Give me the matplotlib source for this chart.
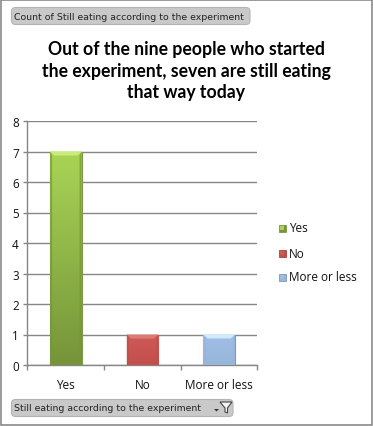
import numpy as np
import matplotlib
matplotlib.use("Agg")
import matplotlib.pyplot as plt
from matplotlib.patches import FancyBboxPatch, Polygon, Rectangle
from matplotlib.colors import LinearSegmentedColormap
from matplotlib.transforms import IdentityTransform

categories = ["Yes", "No", "More or less"]
values = [7, 1, 1]
colors_top = ["#A8D455", "#CF5A57", "#A0BEE4"]
colors_bot = ["#76953A", "#C24F4C", "#98B6DC"]
edge_colors = ["#7C9A42", "#A04644", "#7F95B4"]
bevel_colors = ["#C9EC78", "#DC7A78", "#CFEAFB"]
title = "Out of the nine people who started\nthe experiment, seven are still eating\nthat way today"
top_button = "Count of Still eating according to the experiment"
bottom_button = "Still eating according to the experiment"

W, H = 373, 427
plt.rcParams['font.family'] = ['Open Sans', 'DejaVu Sans']
fig = plt.figure(figsize=(W/100, H/100), dpi=100, facecolor='white')
ax = fig.add_axes([27.5/W, (H-366)/H, (257.5-27.5)/W, (366-122)/H])
ax.set_xlim(-0.5, 2.5)
ax.set_ylim(0, 8)
ax.set_facecolor('white')
GR = '#868686'
for s in ['top', 'right']:
    ax.spines[s].set_visible(False)
for s in ['left', 'bottom']:
    ax.spines[s].set_color(GR)
    ax.spines[s].set_linewidth(1.0)
ax.set_yticks(range(9))
ax.set_xticks(range(3))
ax.set_xticklabels(categories)
ax.tick_params(axis='y', length=3.2, color=GR, width=1, labelsize=8.4, pad=3, labelcolor='#111111')
ax.tick_params(axis='x', length=0, labelsize=8.5, pad=9.5, labelcolor='#111111')
ax.set_xticks([-0.5, 0.5, 1.5, 2.5], minor=True)
ax.tick_params(axis='x', which='minor', length=3.4, color=GR, width=1)
ax.grid(axis='y', color=GR, lw=1.0)
ax.set_axisbelow(True)

bars = ax.bar(range(3), values, width=0.41, color=colors_top, edgecolor=edge_colors, linewidth=0.8, zorder=3)
T = IdentityTransform()
for b, c0, c1, bev in zip(bars, colors_top, colors_bot, bevel_colors):
    cm = LinearSegmentedColormap.from_list('g', [c0, c1])
    x0, y0, w, h = b.get_x(), b.get_y(), b.get_width(), b.get_height()
    g = np.linspace(0, 1, 64).reshape(-1, 1)
    im = ax.imshow(g, cmap=cm, extent=(x0, x0+w, y0, y0+h), aspect='auto', zorder=3.1, origin='upper')
    im.set_clip_path(b)
    (px0, py0), (px1, py1) = ax.transData.transform([(x0, y0), (x0+w, y0+h)])
    bv = 4
    fig.add_artist(Polygon([(px0, py1), (px1, py1), (px1-bv, py1-bv), (px0+bv, py1-bv)], closed=True, fc=bev, ec='none', transform=T, zorder=5))
    fig.add_artist(Polygon([(px0, py0), (px0+2, py0+2), (px0+2, py1-bv), (px0, py1)], closed=True, fc=c1, ec='none', alpha=.7, transform=T, zorder=5))
    fig.add_artist(Polygon([(px1, py0), (px1-2, py0+2), (px1-2, py1-bv), (px1, py1)], closed=True, fc=c1, ec='none', alpha=.7, transform=T, zorder=5))
ax.set_xlim(-0.5, 2.5)
ax.set_ylim(0, 8)

fig.text(186/W, 1-(71/H), title, ha='center', va='center', fontsize=12.7, fontweight='bold',
         family=['Lato', 'DejaVu Sans'], color='black', linespacing=1.3)

# outer frame
fig.add_artist(Rectangle((0.75, 0.75), W-1.5, H-1.5, transform=T, fc='none', ec='#808080', lw=1.1))

def button(x0, ytop, x1, ybot, text, fs):
    fig.add_artist(FancyBboxPatch((x0+3, H-ybot+3), x1-x0-6, ybot-ytop-6, boxstyle='round,pad=3,rounding_size=4',
                   transform=T, fc='#C9C9C9', ec='#B4B4B4', lw=0.8))
    fig.text((x0+2.5)/W, 1-((ytop+ybot)/2)/H, text, ha='left', va='center', fontsize=fs,
             family=['DejaVu Sans'], color='#222222')

button(11.5, 8.5, 250, 25.5, top_button, 6.75)
button(11.5, 400.5, 233, 417.5, bottom_button, 6.75)
# filter icon
fig.add_artist(Polygon([(220, H-403), (232, H-403), (227.5, H-409), (227.5, H-414), (225, H-413), (225, H-409)],
               closed=True, transform=T, fc='#F4F4F4', ec='#444444', lw=0.8))
fig.add_artist(Polygon([(214, H-410), (219, H-410), (216.5, H-412.5)], closed=True, transform=T, fc='#333333', ec='none'))

# legend
leg_y = [229, 254, 278]
for lab, c0, c1, e, y in zip(categories, colors_top, colors_bot, edge_colors, leg_y):
    fig.add_artist(Rectangle((278.5, H-y-3.5), 7, 7, transform=T, fc=c1, ec=e, lw=0.6))
    fig.add_artist(Rectangle((280, H-y-2), 4, 4, transform=T, fc=c0, ec='none'))
    fig.text(289/W, 1-y/H, lab, ha='left', va='center', fontsize=8.5, color='#111111')

fig.savefig('out.png', dpi=100, facecolor='white')
